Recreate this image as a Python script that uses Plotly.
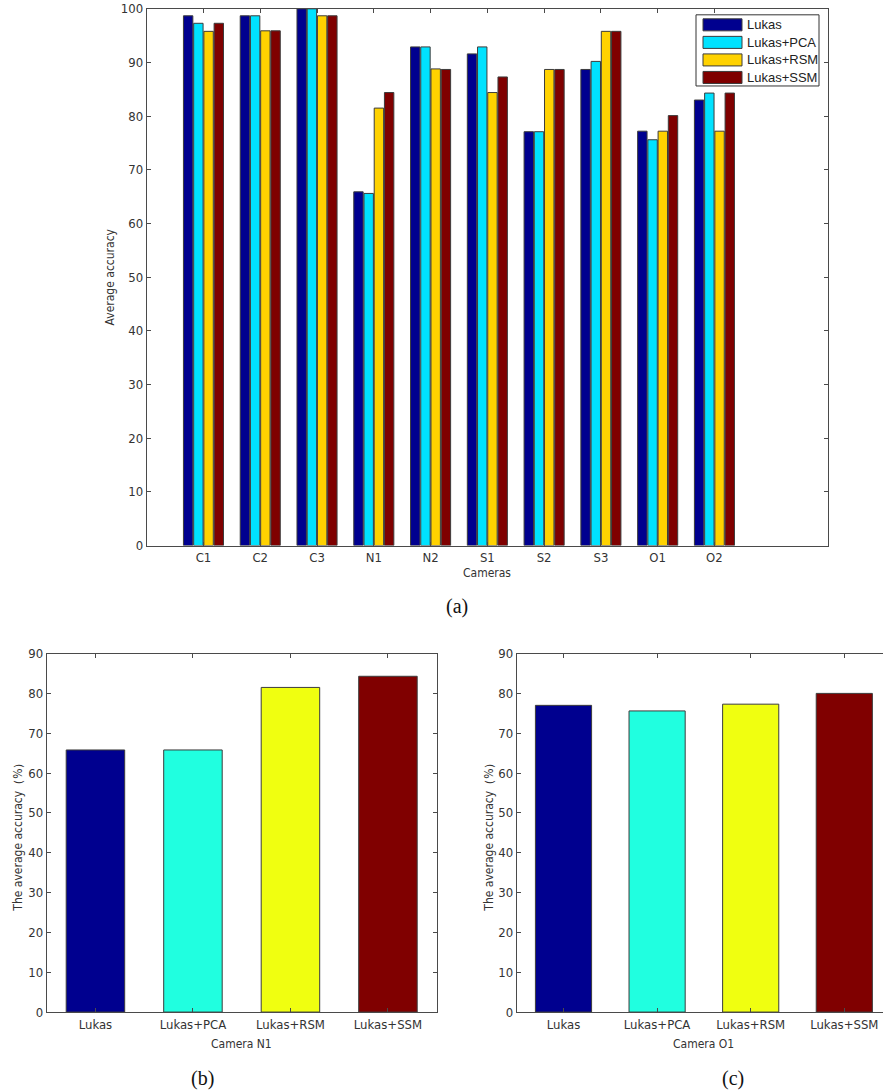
import plotly.graph_objects as go

W, H = 883, 1090
# empirical vertical correction of the rendered page (observed: y_obs = 8.2 + 0.984 * y_fig)
Y_A, Y_B = 8.2, 0.984

# ---------------- data ----------------
cameras = ["C1", "C2", "C3", "N1", "N2", "S1", "S2", "S3", "O1", "O2"]
methods = ["Lukas", "Lukas+PCA", "Lukas+RSM", "Lukas+SSM"]
lukas     = [98.7, 98.7, 100.0, 65.9, 92.9, 91.6, 77.1, 88.7, 77.2, 83.0]
lukas_pca = [97.3, 98.7, 100.0, 65.6, 92.9, 92.9, 77.1, 90.2, 75.6, 84.3]
lukas_rsm = [95.8, 95.9, 98.7, 81.5, 88.8, 84.4, 88.7, 95.8, 77.2, 77.2]
lukas_ssm = [97.3, 95.9, 98.7, 84.4, 88.7, 87.3, 88.7, 95.8, 80.1, 84.3]
top_series = [lukas, lukas_pca, lukas_rsm, lukas_ssm]

n1_values = [65.8, 65.8, 81.5, 84.3]
o1_values = [77.0, 75.6, 77.3, 80.0]

top_y_ticks = list(range(0, 101, 10))
bottom_y_ticks = list(range(0, 91, 10))

# ---------------- styles ----------------
top_colors = ["#00008F", "#00E2FF", "#FFD200", "#7F0000"]
bot_colors = ["#00008F", "#20FFE0", "#F0FF10", "#800000"]
edge = "#3c3c3c"
axis_col = "#4a4a4a"
narrow = "Liberation Sans Narrow, Arial Narrow, DejaVu Sans Condensed, sans-serif"
tick_font = dict(family=narrow, size=13, color="#333")
label_font = dict(family=narrow, size=12, color="#333")
cap_font = dict(family="Liberation Serif, Times New Roman, serif", size=20, color="#111")


def px(x):
    return x / W


def py(y):
    return 1 - ((y - Y_A) / Y_B) / H


fig = go.Figure()

positions = list(range(1, len(cameras) + 1))
for name, vals, col in zip(methods, top_series, top_colors):
    fig.add_trace(go.Bar(x=positions, y=vals, name=name, marker=dict(color=col, line=dict(color=edge, width=1)),
                         xaxis="x", yaxis="y", showlegend=False))

bpos = list(range(1, len(methods) + 1))
fig.add_trace(go.Bar(x=bpos, y=n1_values, width=0.6, offset=-0.3,
                     marker=dict(color=bot_colors, line=dict(color=edge, width=1)),
                     xaxis="x2", yaxis="y2", showlegend=False))
fig.add_trace(go.Bar(x=bpos, y=o1_values, width=0.6, offset=-0.3,
                     marker=dict(color=bot_colors, line=dict(color=edge, width=1)),
                     xaxis="x3", yaxis="y3", showlegend=False))

ax_common = dict(showline=True, linecolor=axis_col, linewidth=1, ticks="inside", ticklen=4,
                 tickcolor=axis_col, showgrid=False, zeroline=False, tickfont=tick_font)

top_dom_x = [px(146.7), px(828)]
top_dom_y = [py(545.5), py(10)]
b_dom_x = [px(46.7), px(436.7)]
bc_dom_y = [py(1011), py(653.3)]
c_right = 883
c_dom_x = [px(516.7), px(c_right)]
c_xmax = 0.5 + (c_right - 516.7) / 93.6

fig.update_layout(
    width=W, height=H, autosize=False,
    margin=dict(l=0, r=0, t=0, b=0),
    paper_bgcolor="white", plot_bgcolor="white",
    barmode="group", bargap=0.28, bargroupgap=0.08,
    xaxis=dict(domain=top_dom_x, range=[0, 12], tickvals=positions, ticktext=cameras,
               mirror="ticks", anchor="y", **ax_common),
    yaxis=dict(domain=top_dom_y, range=[0, 100], tickvals=top_y_ticks,
               mirror="ticks", anchor="x", **ax_common),
    xaxis2=dict(domain=b_dom_x, range=[0.5, 4.5], tickvals=bpos, ticktext=methods,
                mirror="ticks", anchor="y2", **ax_common),
    yaxis2=dict(domain=bc_dom_y, range=[0, 90], tickvals=bottom_y_ticks,
                mirror="ticks", anchor="x2", **ax_common),
    xaxis3=dict(domain=c_dom_x, range=[0.5, c_xmax], tickvals=bpos, ticktext=methods,
                mirror="ticks", anchor="y3", **ax_common),
    yaxis3=dict(domain=bc_dom_y, range=[0, 90], tickvals=bottom_y_ticks,
                mirror=False, anchor="x3", **ax_common),
)

ann = []
ann.append(dict(text="Average accuracy", x=px(110), y=py(278), textangle=-90, font=label_font))
ann.append(dict(text="Cameras", x=px(487), y=py(573), font=label_font))
ann.append(dict(text="The average accuracy（%）", x=px(18), y=py(834), textangle=-90, font=label_font))
ann.append(dict(text="Camera N1", x=px(241), y=py(1043), font=label_font))
ann.append(dict(text="The average accuracy（%）", x=px(489), y=py(834), textangle=-90, font=label_font))
ann.append(dict(text="Camera O1", x=px(703), y=py(1043), font=label_font))
ann.append(dict(text="(a)", x=px(457), y=py(606), font=cap_font))
ann.append(dict(text="(b)", x=px(202), y=py(1077), font=cap_font))
ann.append(dict(text="(c)", x=px(733), y=py(1077), font=cap_font))

shapes = []
shapes.append(dict(type="rect", xref="paper", yref="paper", x0=px(696), x1=px(819), y0=py(87), y1=py(16),
                   line=dict(color="#333", width=1), fillcolor="white", layer="above"))
row_y = [26, 43.5, 61, 78.5]
for name, col, ry in zip(methods, top_colors, row_y):
    shapes.append(dict(type="rect", xref="paper", yref="paper", x0=px(703), x1=px(742),
                       y0=py(ry + 6), y1=py(ry - 6), fillcolor=col,
                       line=dict(color=edge, width=1), layer="above"))
    ann.append(dict(text=name, x=px(745), y=py(ry), xanchor="left",
                    font=dict(family="Liberation Sans, Arial, sans-serif", size=13, color="#222")))

for a in ann:
    a.setdefault("xref", "paper")
    a.setdefault("yref", "paper")
    a.setdefault("showarrow", False)
    a.setdefault("xanchor", "center")
    a.setdefault("yanchor", "middle")

fig.update_layout(annotations=ann, shapes=shapes)

fig.write_html("out.html", config={"displayModeBar": False},
               post_script="document.body.style.margin='0';")
